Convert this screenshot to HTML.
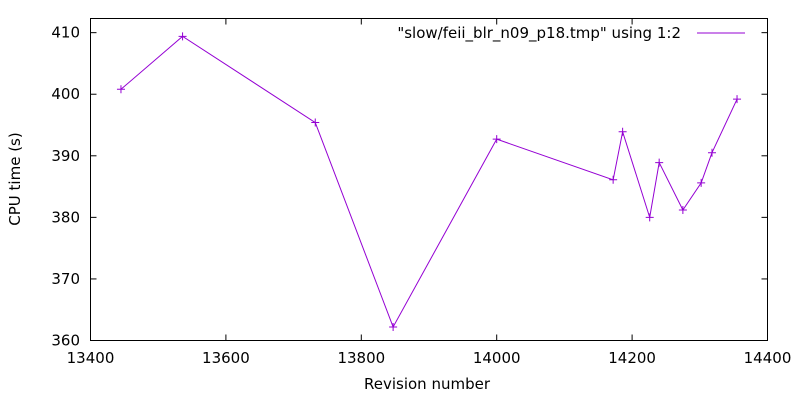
<!DOCTYPE html>
<html><head><meta charset="utf-8"><style>
body{margin:0;background:#fff}
svg text{font-family:"DejaVu Sans","Liberation Sans",sans-serif;font-size:15px;fill:#000}
</style></head><body>
<svg id="chart" width="800" height="400">
<rect x="90.5" y="18.5" width="677" height="322" fill="none" stroke="#000"/>
<g id="axes"></g>
<polyline id="line" fill="none" stroke="#9400d3" stroke-width="1"/>
<g id="pts"></g>
<text x="681" y="38" text-anchor="end">"slow/feii_blr_n09_p18.tmp" using 1:2</text>
<line x1="697" y1="33" x2="745" y2="33" stroke="#9400d3"/>
<text x="427" y="389" text-anchor="middle">Revision number</text>
<text transform="translate(20,179) rotate(-90)" text-anchor="middle">CPU time (s)</text>
</svg>
<script>
const revisions=[13445,13536,13732,13847,14000,14172,14186,14226,14240,14275,14302,14318,14355];
const cpuTimes=[400.8,409.4,395.4,362.2,392.7,386.1,393.9,380.0,388.9,381.2,385.6,390.5,399.2];
const xTicks=[13400,13600,13800,14000,14200,14400];
const yTicks=[360,370,380,390,400,410];
const X0=90.5,X1=767.5,Y0=340.5,Y1=18.5;
const xMin=13400,xMax=14400,yMin=360,yMax=412.3;
const sx=v=>X0+(v-xMin)/(xMax-xMin)*(X1-X0);
const sy=v=>Y0-(v-yMin)/(yMax-yMin)*(Y0-Y1);
const NS="http://www.w3.org/2000/svg";
const axes=document.getElementById('axes');
function mk(t,a,p){const e=document.createElementNS(NS,t);for(const k in a)e.setAttribute(k,a[k]);p.appendChild(e);return e;}
xTicks.forEach(v=>{const x=sx(v);
 const l=mk('line',{x1:x,x2:x,y1:Y0,y2:Y0-6,stroke:'#000'},axes);
 
 
 const l2=mk('line',{x1:x,x2:x,y1:Y1,y2:Y1+6,stroke:'#000'},axes);
 
 
 const t=mk('text',{x:x,y:363,'text-anchor':'middle'},axes);t.textContent=v;
 
 });
yTicks.forEach(v=>{const y=sy(v);
 const l=mk('line',{x1:X0,x2:X0+6,y1:y,y2:y,stroke:'#000'},axes);
 
 
 const l2=mk('line',{x1:X1,x2:X1-6,y1:y,y2:y,stroke:'#000'},axes);
 
 
 const t=mk('text',{x:80,y:y+5,'text-anchor':'end'},axes);t.textContent=v;
 
 });
document.getElementById('line').setAttribute('points',revisions.map((r,i)=>sx(r)+','+sy(cpuTimes[i])).join(' '));
const pts=document.getElementById('pts');
revisions.forEach((r,i)=>{const x=sx(r),y=sy(cpuTimes[i]);
 const g=mk('path',{d:`M${x-4},${y}H${x+4}M${x},${y-4}V${y+4}`,stroke:'#9400d3'},pts);
 
 });
</script>
</body></html>
